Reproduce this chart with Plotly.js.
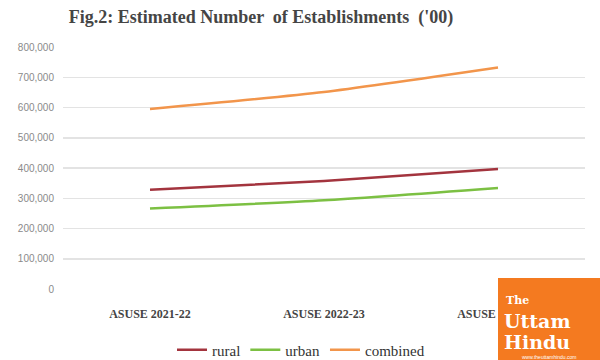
<!DOCTYPE html>
<html><head><meta charset="utf-8">
<script src="https://cdn.plot.ly/plotly-3.0.1.min.js"></script>
<style>body{margin:0;background:#fff}#c{width:600px;height:360px}</style>
</head><body><div id="c"></div>
<script>
const categories = ["ASUSE 2021-22", "ASUSE 2022-23", "ASUSE 2023-24"];
const rural = [328000, 357000, 397000];
const urban = [266000, 293000, 334000];
const combined = [595000, 651000, 732000];
const yTicks = [0, 100000, 200000, 300000, 400000, 500000, 600000, 700000, 800000];
const yTickText = ["0", "100,000", "200,000", "300,000", "400,000", "500,000", "600,000", "700,000", "800,000"];

const serif = "Liberation Serif, Times New Roman, serif";
const traces = [
  {name: "rural", x: categories, y: rural, color: "#A3343E"},
  {name: "urban", x: categories, y: urban, color: "#7CC043"},
  {name: "combined", x: categories, y: combined, color: "#F2954B"}
].map(s => ({type: "scatter", mode: "lines", name: s.name, x: s.x, y: s.y,
  line: {color: s.color, width: 2.5, shape: "spline", smoothing: 0.6}}));

// plot area in pixels: left 63, right 585, top 47, bottom 289
const px = x => (x - 63) / 522;
const py = y => (289 - y) / 242;

const layout = {
  width: 600, height: 360,
  margin: {l: 63, r: 15, t: 47, b: 71, autoexpand: false},
  paper_bgcolor: "#fff", plot_bgcolor: "#fff",
  title: {text: "<b>Fig.2: Estimated Number  of Establishments  ('00)</b>", x: 0.435, xanchor: "center", y: 0.955, yanchor: "middle",
    font: {family: serif, size: 18, color: "#454545"}},
  xaxis: {type: "category", range: [-0.5, 2.5], showgrid: false, zeroline: false, showline: false,
    ticks: "", ticklabelstandoff: 16, tickfont: {family: serif, size: 12, color: "#444", weight: "bold"}, fixedrange: true},
  yaxis: {range: [0, 800000], tickvals: yTicks, ticktext: yTickText, showgrid: true, gridcolor: "#e3e3e3", gridwidth: 1.5,
    zeroline: false, showline: false, ticks: "", ticklabelstandoff: 8,
    tickfont: {family: "Liberation Sans, Arial, sans-serif", size: 10, color: "#8a8a8a"}, fixedrange: true},
  showlegend: true,
  legend: {orientation: "h", x: px(301), xanchor: "center", yref: "container", y: 10 / 360, yanchor: "middle",
    bgcolor: "rgba(0,0,0,0)", font: {family: serif, size: 15, color: "#333"}, tracegroupgap: 0},
  shapes: [{type: "rect", xref: "paper", yref: "paper", x0: px(498), x1: px(601), y0: py(361), y1: py(278),
    fillcolor: "#F47A20", line: {width: 0}, layer: "above"}],
  annotations: [
    {xref: "paper", yref: "paper", x: px(504), y: py(300), xanchor: "left", yanchor: "middle", showarrow: false,
      text: "<b>The</b>", font: {family: "DejaVu Serif, serif", size: 11, color: "#fff"}},
    {xref: "paper", yref: "paper", x: px(503), y: py(321), xanchor: "left", yanchor: "middle", showarrow: false, borderpad: 0,
      text: "<b>Uttam</b>", font: {family: "DejaVu Serif, serif", size: 19, color: "#fff"}},
    {xref: "paper", yref: "paper", x: px(503), y: py(342), xanchor: "left", yanchor: "middle", showarrow: false, borderpad: 0,
      text: "<b>Hindu</b>", font: {family: "DejaVu Serif, serif", size: 19, color: "#fff"}},
    {xref: "paper", yref: "paper", x: px(549), y: py(357), xanchor: "center", yanchor: "middle", showarrow: false,
      text: "www.theuttamhindu.com", font: {family: "Liberation Sans, sans-serif", size: 5, color: "#fff"}}
  ]
};
Plotly.newPlot("c", traces, layout, {displayModeBar: false, staticPlot: true});
</script></body></html>
